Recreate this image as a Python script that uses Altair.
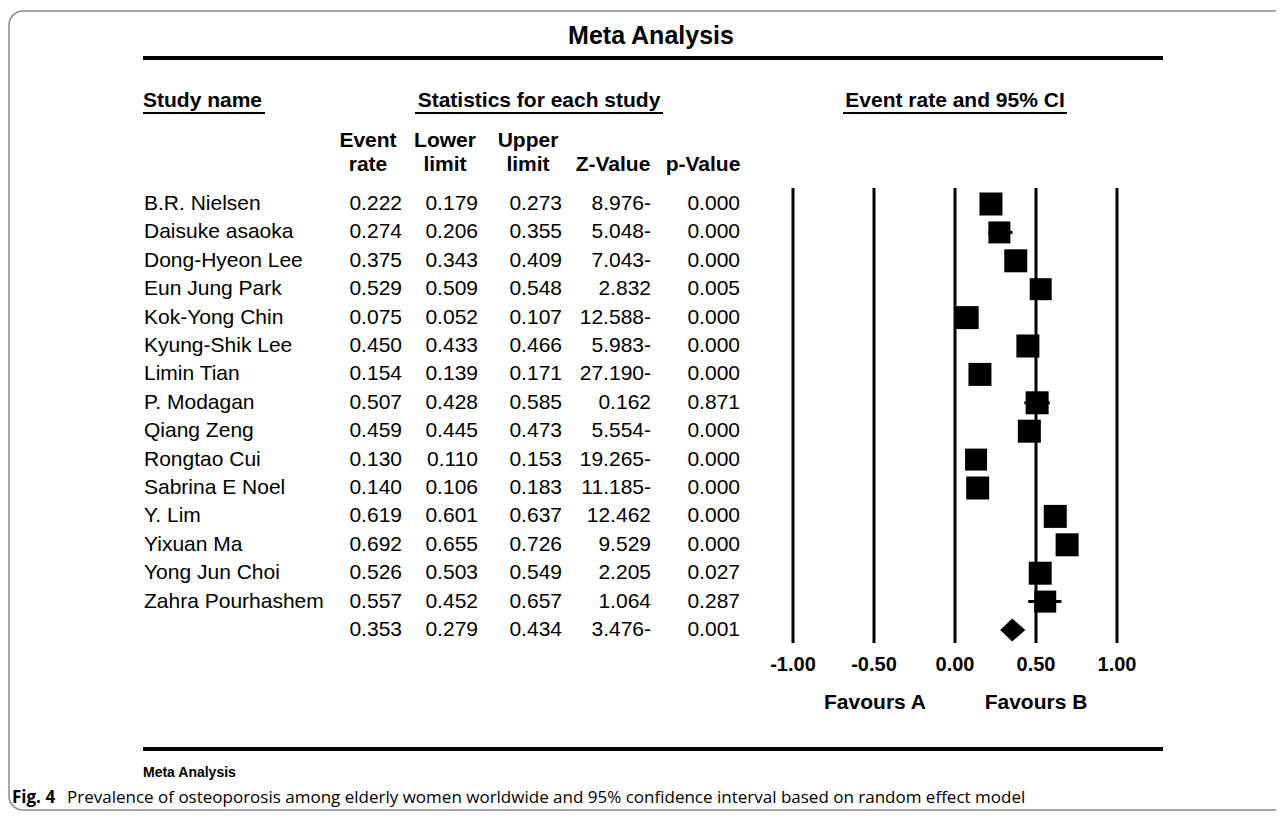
import altair as alt
import pandas as pd

# ---------------- data ----------------
studies = ["B.R. Nielsen", "Daisuke asaoka", "Dong-Hyeon Lee", "Eun Jung Park",
           "Kok-Yong Chin", "Kyung-Shik Lee", "Limin Tian", "P. Modagan",
           "Qiang Zeng", "Rongtao Cui", "Sabrina E Noel", "Y. Lim", "Yixuan Ma",
           "Yong Jun Choi", "Zahra Pourhashem"]
event_rate = [0.222, 0.274, 0.375, 0.529, 0.075, 0.450, 0.154, 0.507, 0.459,
              0.130, 0.140, 0.619, 0.692, 0.526, 0.557]
lower_limit = [0.179, 0.206, 0.343, 0.509, 0.052, 0.433, 0.139, 0.428, 0.445,
               0.110, 0.106, 0.601, 0.655, 0.503, 0.452]
upper_limit = [0.273, 0.355, 0.409, 0.548, 0.107, 0.466, 0.171, 0.585, 0.473,
               0.153, 0.183, 0.637, 0.726, 0.549, 0.657]
z_value = ["8.976-", "5.048-", "7.043-", "2.832", "12.588-", "5.983-", "27.190-",
           "0.162", "5.554-", "19.265-", "11.185-", "12.462", "9.529", "2.205", "1.064"]
p_value = ["0.000", "0.000", "0.000", "0.005", "0.000", "0.000", "0.000", "0.871",
           "0.000", "0.000", "0.000", "0.000", "0.000", "0.027", "0.287"]
box_side = [23, 22, 23, 22, 23, 23, 23, 23, 23, 22, 23, 23, 23, 23, 22]

summary_rate = 0.353
summary_lower = 0.279
summary_upper = 0.434
summary_z = "3.476-"
summary_p = "0.001"

tick_values = [-1.0, -0.5, 0.0, 0.5, 1.0]
tick_labels = ["-1.00", "-0.50", "0.00", "0.50", "1.00"]

# ---------------- layout ----------------
W, H = 1268, 804
FONT = "Liberation Sans"
CAP_FONT = "Open Sans"
TXT = 21

xscale = alt.Scale(domain=[-5.84568, 1.98148], nice=False, zero=False)
yscale = alt.Scale(domain=[-6.9014, 21.4085], reverse=True, nice=False, zero=False)

n = len(studies)
rows = pd.DataFrame({
    "row": list(range(n)) + [n],
    "name": studies + [""],
    "er": event_rate + [summary_rate],
    "lo": lower_limit + [summary_lower],
    "hi": upper_limit + [summary_upper],
    "z": z_value + [summary_z],
    "p": p_value + [summary_p],
})
rows["er_s"] = rows["er"].map(lambda v: f"{v:.3f}")
rows["lo_s"] = rows["lo"].map(lambda v: f"{v:.3f}")
rows["hi_s"] = rows["hi"].map(lambda v: f"{v:.3f}")

study_df = rows.iloc[:n].copy()
study_df["size"] = [s * s for s in box_side]

dummy = pd.DataFrame({"a": [0]})


def label(text, x, y, size=TXT, bold=True, align="center", font=FONT):
    return alt.Chart(dummy).mark_text(
        text=text, align=align, baseline="middle", font=font, fontSize=size,
        fontWeight="bold" if bold else "normal", color="black"
    ).encode(x=alt.value(x), y=alt.value(y))


def hline(x1, x2, y, width):
    return alt.Chart(dummy).mark_rule(color="black", strokeWidth=width).encode(
        x=alt.value(x1), x2=alt.value(x2), y=alt.value(y))


layers = []

# frame
layers.append(alt.Chart(dummy).mark_rect(
    fill="white", fillOpacity=0, stroke="#8a8a8a", strokeWidth=1.5, cornerRadius=14
).encode(x=alt.value(1), x2=alt.value(1320), y=alt.value(3), y2=alt.value(802)))

# title and rules
layers.append(label("Meta Analysis", 643, 28, size=25))
layers.append(hline(135, 1155, 50, 4))
layers.append(hline(135, 1155, 741, 4))

# section headers
layers.append(label("Study name", 135, 93, align="left"))
layers.append(hline(135, 257, 105, 2))
layers.append(label("Statistics for each study", 531, 93))
layers.append(hline(407, 655, 105, 2))
layers.append(label("Event rate and 95% CI", 947, 93))
layers.append(hline(835, 1059, 105, 2))

# column headers
for t1, t2, cx in [("Event", "rate", 360), ("Lower", "limit", 437), ("Upper", "limit", 520)]:
    layers.append(label(t1, cx, 133))
    layers.append(label(t2, cx, 157))
layers.append(label("Z-Value", 605, 157))
layers.append(label("p-Value", 695, 157))

# table text
Y = alt.Y("row:Q", scale=yscale, axis=None)
base = alt.Chart(rows)
txt = dict(baseline="middle", font=FONT, fontSize=TXT, color="black")
layers.append(base.mark_text(align="left", **txt).encode(x=alt.value(136), y=Y, text="name:N"))
for col, xr in [("er_s", 394), ("lo_s", 470), ("hi_s", 554), ("z", 643), ("p", 732)]:
    layers.append(base.mark_text(align="right", **txt).encode(x=alt.value(xr), y=Y, text=f"{col}:N"))

# forest plot reference lines
ticks = pd.DataFrame({"tick": tick_values, "lab": tick_labels})
X_t = alt.X("tick:Q", scale=xscale, axis=None)
layers.append(alt.Chart(ticks).mark_rule(color="black", strokeWidth=3).encode(
    x=X_t, y=alt.value(180), y2=alt.value(635)))
layers.append(alt.Chart(ticks).mark_text(
    baseline="middle", align="center", font=FONT, fontSize=20, fontWeight="bold", color="black"
).encode(x=X_t, y=alt.value(657), text="lab:N"))

# CI lines and boxes
sbase = alt.Chart(study_df)
layers.append(sbase.mark_rule(color="black", strokeWidth=3).encode(
    x=alt.X("lo:Q", scale=xscale, axis=None), x2="hi:Q", y=Y))
layers.append(sbase.mark_point(shape="square", filled=True, color="black", opacity=1, strokeWidth=0).encode(
    x=alt.X("er:Q", scale=xscale, axis=None), y=Y, size=alt.Size("size:Q", scale=None, legend=None)))

# summary diamond
half = 0.405
diamond = pd.DataFrame({
    "x": [summary_lower, summary_rate, summary_upper],
    "y": [n, n - half, n],
    "y2": [n, n + half, n],
})
layers.append(alt.Chart(diamond).mark_area(color="black", opacity=1).encode(
    x=alt.X("x:Q", scale=xscale, axis=None),
    y=alt.Y("y:Q", scale=yscale, axis=None), y2="y2:Q"))

# favours labels
layers.append(label("Favours A", 867, 695, size=21))
layers.append(label("Favours B", 1028, 695, size=21))

# bottom labels
layers.append(label("Meta Analysis", 135, 765, size=14, align="left"))
layers.append(label("Fig. 4", 4, 790, size=17, align="left", font=CAP_FONT))
layers.append(label("Prevalence of osteoporosis among elderly women worldwide and 95% confidence interval based on random effect model",
                    59, 790, size=17, bold=False, align="left", font=CAP_FONT))

chart = alt.layer(*layers).properties(
    width=W, height=H, padding=0,
    autosize=alt.AutoSizeParams(type="none"),
).configure_view(stroke=None)

chart.save("out.html", embed_options={"renderer": "svg", "actions": False})
